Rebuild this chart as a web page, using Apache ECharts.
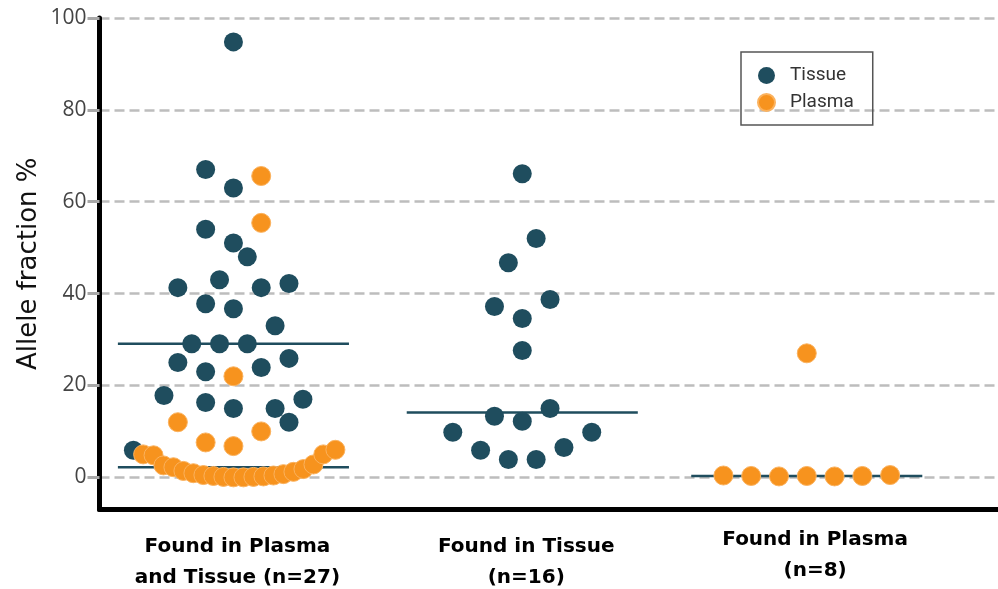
<!DOCTYPE html>
<html>
<head>
<meta charset="utf-8">
<script src="https://cdn.jsdelivr.net/npm/echarts@6/dist/echarts.min.js"></script>
<style>
  html, body { margin: 0; padding: 0; background: #fff; }
  #chart { width: 998px; height: 589px; }
</style>
</head>
<body>
<div id="chart"></div>
<script>
// Category labels along the x axis
const groupNames = [
  ['Found in Plasma', 'and Tissue (n=27)'],
  ['Found in Tissue', '(n=16)'],
  ['Found in Plasma', '(n=8)']
];
const yTickValues = [0, 20, 40, 60, 80, 100];

// Group 1: variants found in both plasma and tissue (allele fraction %, beeswarm column)
const bothTissueValues = [94.8, 67, 63, 54, 51, 48, 43, 41.3, 41.3, 42.2, 37.8, 36.7, 33, 29.1, 29.1, 29.1,
  25, 23, 23.9, 25.9, 17.8, 16.3, 15, 15, 17, 12, 5.9];
const bothTissueCols = [0, -2, 0, -2, 0, 1, -1, -4, 2, 4, -2, 0, 3, -3, -1, 1,
  -4, -2, 2, 4, -5, -2, 0, 3, 5, 4, -7.2];
const bothPlasmaValues = [65.6, 55.4, 22, 12, 7.6, 6.8, 10,
  5.0, 4.8, 2.6, 2.2, 1.4, 0.9, 0.5, 0.3, 0.1, 0, 0, 0.1, 0.2, 0.4, 0.7, 1.2, 1.8, 2.8, 5.0, 6.0];
const bothPlasmaCols = [2, 2, 0, -4, -2, 0, 2,
  -6.5, -5.75, -5.04, -4.32, -3.6, -2.88, -2.16, -1.44, -0.72, 0, 0.72, 1.44, 2.16, 2.88, 3.6, 4.32, 5.04, 5.76, 6.47, 7.34];

// Group 2: variants found in tissue only
const tissueOnlyValues = [66.1, 52, 46.7, 37.2, 38.7, 34.6, 27.6, 13.3, 12.2, 15, 9.8, 9.8, 5.9, 6.5, 3.9, 3.9];
const tissueOnlyCols = [0, 1, -1, -2, 2, 0, 0, -2, 0, 2, -5, 5, -3, 3, -1, 1];

// Group 3: variants found in plasma only
const plasmaOnlyValues = [0.4, 0.3, 0.2, 0.3, 0.2, 0.3, 0.5, 27];
const plasmaOnlyCols = [-6, -4, -2, 0, 2, 4, 6, 0];

// Median bars per group (null where the group has no such sample)
const tissueMedians = [29.1, 14.1, null];
const plasmaMedians = [2.2, null, 0.3];

// Layout helpers (axis units)
const groupCenters = [1, 2, 2.985];
const COL = 0.0481;        // one beeswarm column = one dot width
const MEDIAN_HALF = 0.4;   // half length of a median bar

const TEAL = '#1f4d5e';
const ORANGE = '#f7931e';

function points(groupIdx, values, cols) {
  return values.map((v, i) => [groupCenters[groupIdx] + cols[i] * COL, v]);
}

const tissueData = [
  ...points(0, bothTissueValues, bothTissueCols),
  ...points(1, tissueOnlyValues, tissueOnlyCols)
];
const plasmaData = [
  ...points(0, bothPlasmaValues, bothPlasmaCols),
  ...points(2, plasmaOnlyValues, plasmaOnlyCols)
];

const medianData = [];
[tissueMedians, plasmaMedians].forEach(list => {
  list.forEach((m, g) => {
    if (m === null) return;
    medianData.push([groupCenters[g] - MEDIAN_HALF, m]);
    medianData.push([groupCenters[g] + MEDIAN_HALF, m]);
    medianData.push('-');
  });
});

const labelFont = { fontFamily: 'DejaVu Sans', fontWeight: 'bold', fontSize: 20, color: '#000' };

const chart = echarts.init(document.getElementById('chart'));
chart.setOption({
  animation: false,
  backgroundColor: '#fff',
  grid: { left: 99.5, right: 0, top: 18, bottom: 79.5 },
  legend: {
    orient: 'vertical',
    left: 741,
    top: 52,
    padding: [14, 19, 13, 16],
    itemGap: 8,
    itemWidth: 17,
    itemHeight: 17,
    borderColor: '#555',
    borderWidth: 1.5,
    borderRadius: 0,
    data: [{ name: 'Tissue', icon: 'circle' }, { name: 'Plasma', icon: 'circle' }],
    textStyle: { fontFamily: 'Roboto', fontSize: 19, color: '#333', padding: [0, 0, 0, 10] }
  },
  xAxis: {
    type: 'value',
    min: 0.53633,
    max: 3.64706,
    axisLine: { show: true, onZero: false, lineStyle: { color: '#000', width: 5 } },
    axisTick: { show: false },
    splitLine: { show: false },
    axisLabel: {
      customValues: [1, 2, 3],
      formatter: v => {
        const idx = Math.round(v) - 1;
        const [l1, l2] = groupNames[idx];
        // the last group sits a little higher than the first two
        return idx < 2 ? `{a|${l1}}\n{b|${l2}}` : `{c|${l1}}\n{c|${l2}}`;
      },
      margin: 15,
      ...labelFont,
      padding: [0, 0, 0, 8],
      rich: {
        a: { ...labelFont, lineHeight: 45 },
        b: { ...labelFont, lineHeight: 17 },
        c: { ...labelFont, lineHeight: 31 }
      }
    }
  },
  yAxis: {
    type: 'value',
    min: -7,
    max: 100,
    name: 'Allele fraction %',
    nameLocation: 'middle',
    nameRotate: 90,
    nameGap: 57,
    nameMoveOverlap: false,
    nameTextStyle: { fontFamily: 'DejaVu Sans', fontSize: 26, color: '#111' },
    axisLine: { show: true, onZero: false, lineStyle: { color: '#000', width: 5 } },
    axisTick: {
      show: true,
      customValues: yTickValues,
      length: 12,
      lineStyle: { color: '#a8a8a8', width: 3 }
    },
    axisLabel: {
      customValues: yTickValues,
      margin: 13,
      fontFamily: 'Open Sans',
      fontSize: 21,
      color: '#444'
    },
    splitLine: {
      show: true,
      lineStyle: { color: '#bdbdbd', width: 2.5, type: [10, 5] }
    }
  },
  series: [
    {
      name: 'median',
      type: 'line',
      data: medianData,
      symbol: 'none',
      silent: true,
      z: 1,
      lineStyle: { color: TEAL, width: 2.5 }
    },
    {
      name: 'Tissue',
      type: 'scatter',
      data: tissueData,
      symbolSize: 19,
      z: 2,
      itemStyle: { color: TEAL, opacity: 1 }
    },
    {
      name: 'Plasma',
      type: 'scatter',
      data: plasmaData,
      symbolSize: 19,
      z: 3,
      itemStyle: { color: ORANGE, opacity: 1, borderColor: '#fbb25e', borderWidth: 1 }
    }
  ]
});
</script>
</body>
</html>
